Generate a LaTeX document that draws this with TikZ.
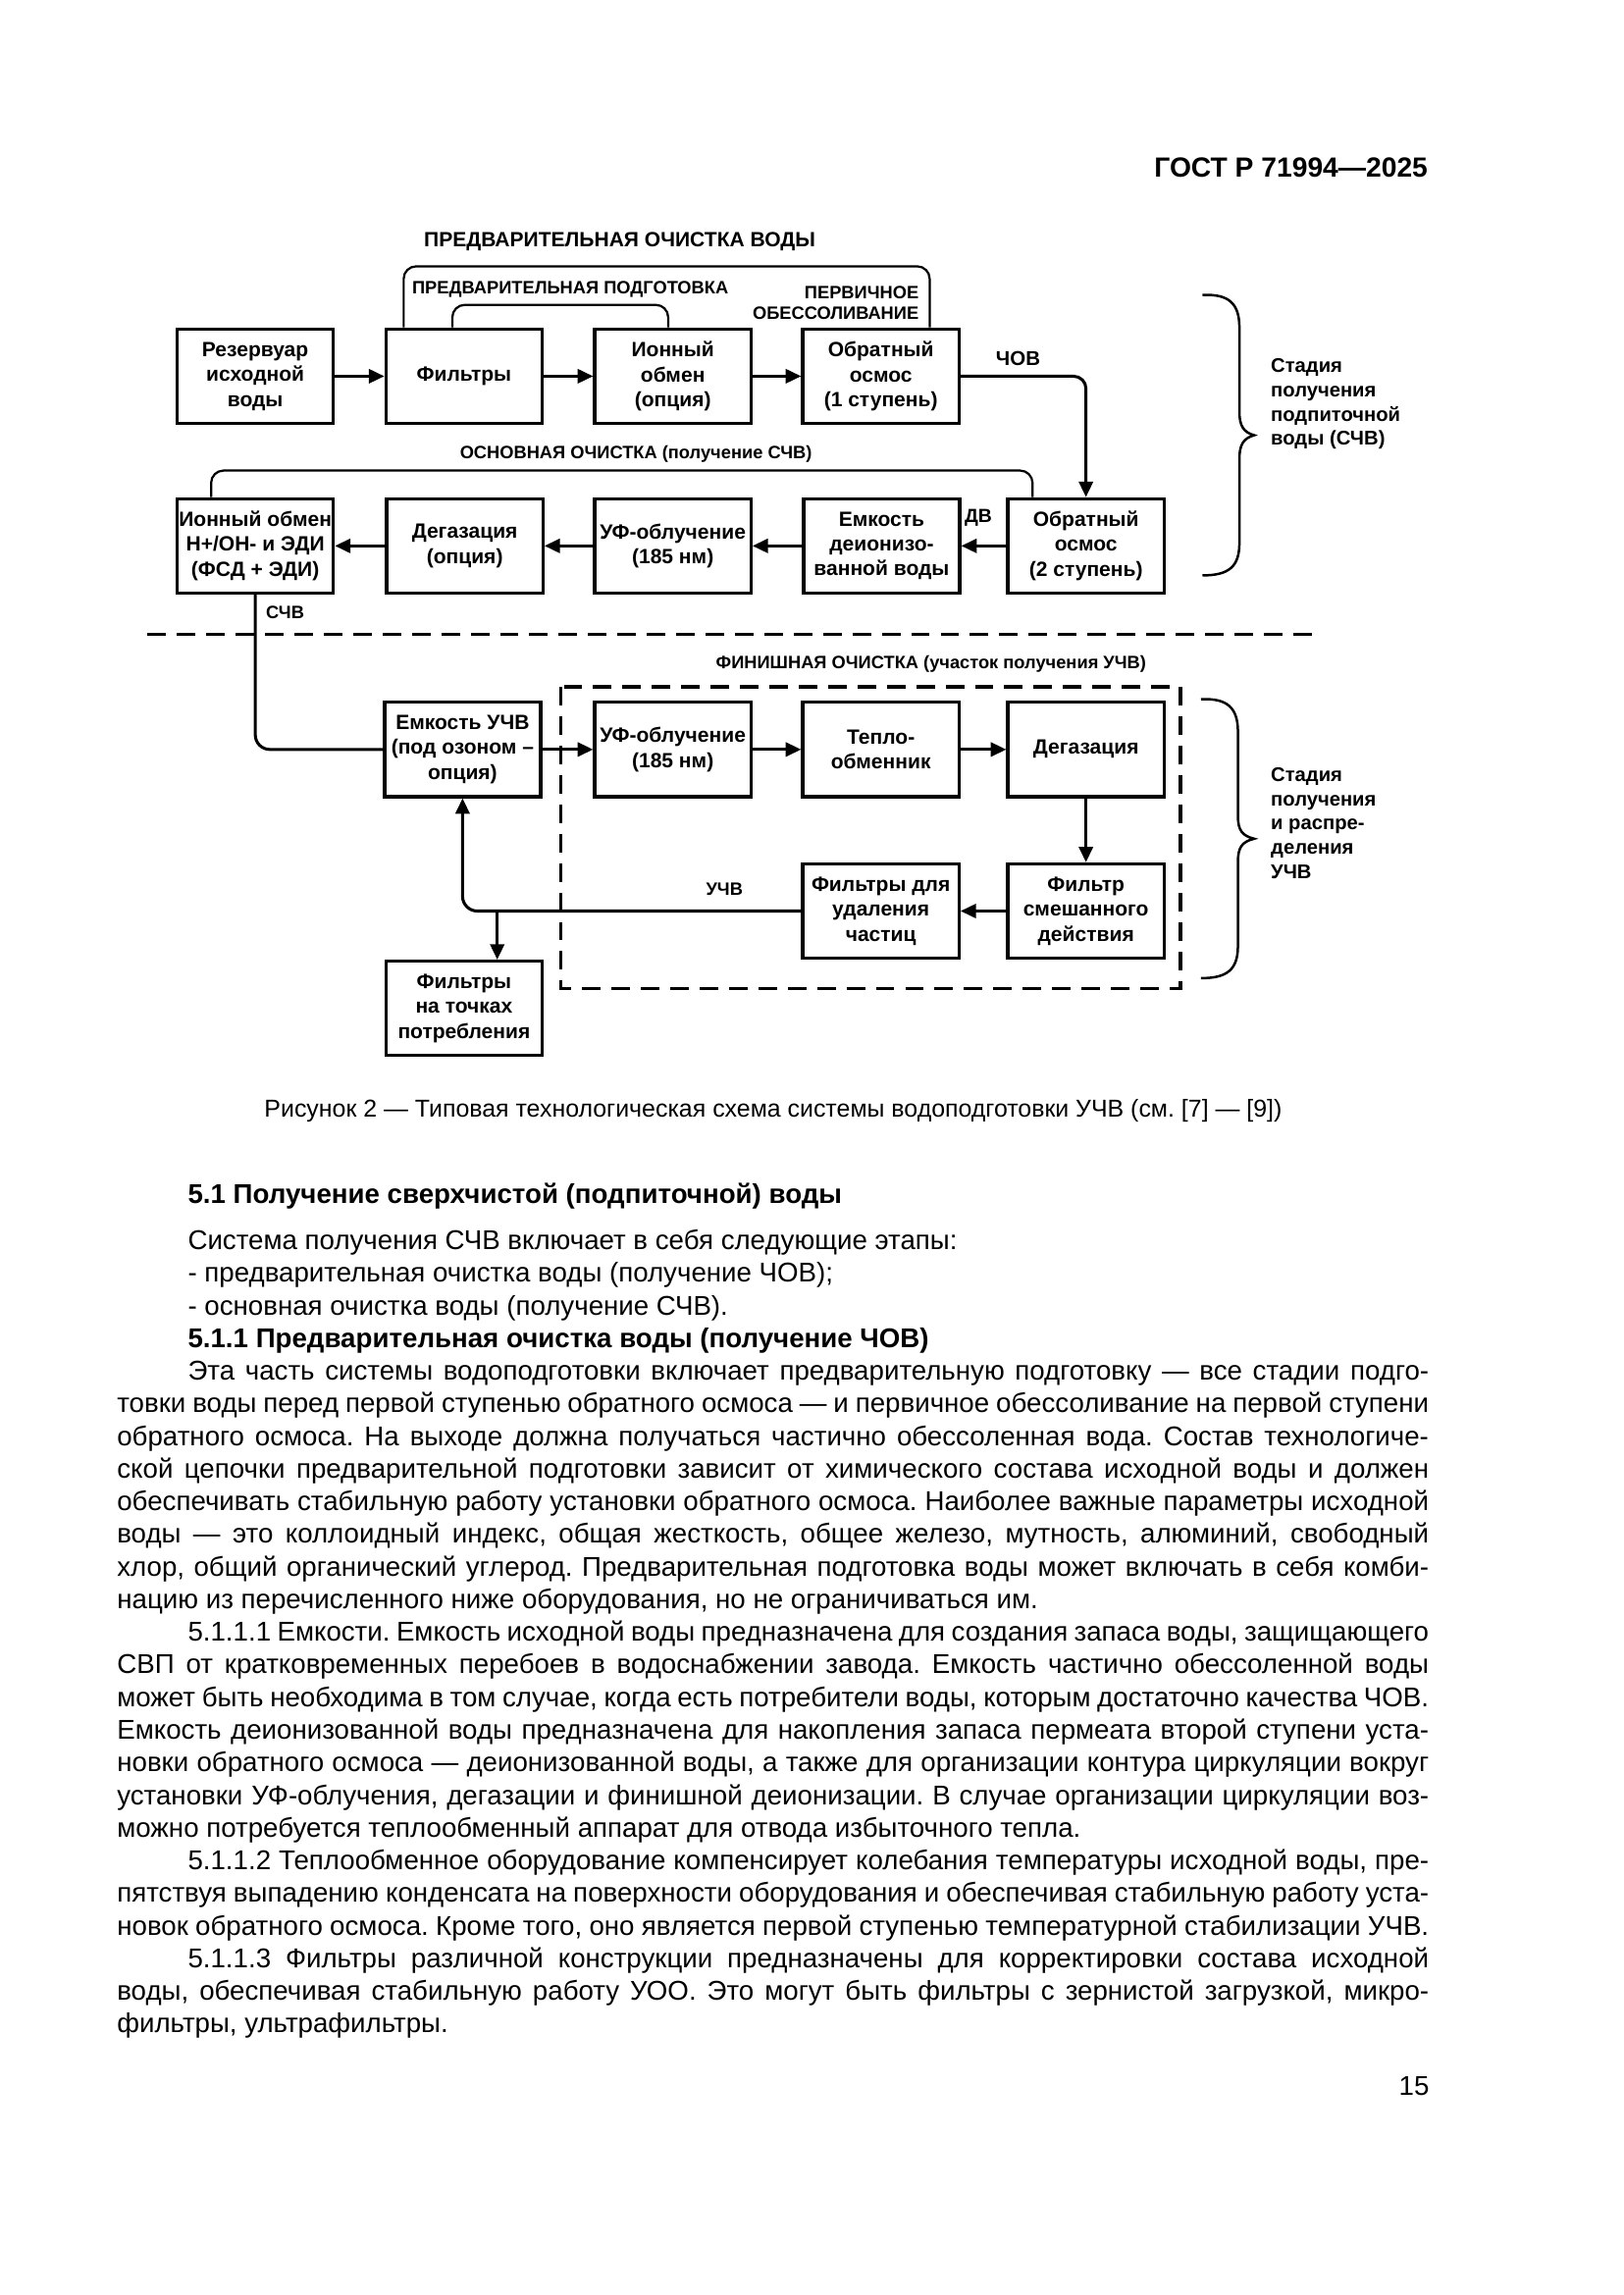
\documentclass[tikz,border=0pt]{standalone}
\usepackage{fontspec}
\setmainfont{Liberation Sans}
\usetikzlibrary{arrows.meta}
\frenchspacing
\newlength\fullw \setlength\fullw{169.72mm}
\newlength\indw \setlength\indw{160.56mm}
\newcommand\JL[5]{\node[body] (#1) at (#2,{847+22.12*(#3-1)}) {\makebox[#4][s]{#5}};}
\newcommand\PL[4]{\node[body] (#1) at (#2,{847+22.12*(#3-1)}) {#4};}
\begin{document}
\begin{tikzpicture}[x=0.19091mm,y=-0.19091mm,
  box/.style={draw, line width=1.2pt, minimum width=20.2mm, minimum height=12.2mm, inner sep=0pt, align=center, font=\bfseries\fontsize{7.6}{9.2}\selectfont},
  conn/.style={line width=1.1pt, -{Triangle[length=2mm,width=1.8mm]}},
  plainline/.style={line width=1.1pt},
  brk/.style={line width=0.8pt, rounded corners=1.6mm},
  lbl/.style={font=\bfseries\fontsize{6.6}{8}\selectfont, inner sep=0pt},
  lblb/.style={font=\bfseries\fontsize{7.4}{8}\selectfont, inner sep=0pt},
  sep/.style={line width=1.2pt, dash pattern=on 2.4mm off 1.4mm},
  bracestyle/.style={line width=0.9pt},
  stage/.style={font=\bfseries\fontsize{7.3}{8.9}\selectfont, inner sep=0pt, align=left, anchor=west},
  body/.style={anchor=base west, inner sep=0pt, font=\fontsize{10}{12}\selectfont},
]
\fill[white] (0,0) rectangle (1100,1555.56);
\useasboundingbox (0,0) rectangle (1100,1555.56);

% header
\node[anchor=base east, inner sep=0pt, font=\bfseries\fontsize{10.2}{12}\selectfont] (hdr) at (968,120) {ГОСТ Р 71994—2025};

% boxes
\node[box] (res) at (173,255) {Резервуар\\исходной\\воды};
\node[box] (fil) at (314.5,255) {Фильтры};
\node[box] (ion) at (456,255) {Ионный\\обмен\\(опция)};
\node[box] (ro1) at (597,255) {Обратный\\осмос\\(1 ступень)};
\node[box] (ie) at (173,370) {Ионный обмен\\H+/OH- и ЭДИ\\(ФСД + ЭДИ)};
\node[box] (deg) at (315,370) {Дегазация\\(опция)};
\node[box] (uv) at (456,370) {УФ-облучение\\(185 нм)};
\node[box] (tank) at (597.5,370) {Емкость\\деионизо-\\ванной воды};
\node[box] (ro2) at (736,370) {Обратный\\осмос\\(2 ступень)};
\node[box] (tu) at (313.5,508) {Емкость УЧВ\\(под озоном –\\опция)};
\node[box] (uv2) at (456,508) {УФ-облучение\\(185 нм)};
\node[box] (hx) at (597,508) {Тепло-\\обменник};
\node[box] (deg2) at (736,508) {Дегазация};
\node[box] (fp) at (597,617.5) {Фильтры для\\удаления\\частиц};
\node[box] (fm) at (736,617.5) {Фильтр\\смешанного\\действия};
\node[box] (fu) at (314.5,683.5) {Фильтры\\на точках\\потребления};

% connectors
\draw[conn] (res) -- (fil);
\draw[conn] (fil) -- (ion);
\draw[conn] (ion) -- (ro1);
\draw[conn, rounded corners=1.6mm] (ro1.east) -| (ro2.north);
\draw[conn] (ro2) -- (tank);
\draw[conn] (tank) -- (uv);
\draw[conn] (uv) -- (deg);
\draw[conn] (deg) -- (ie);
\draw[plainline, rounded corners=1.9mm] (ie.south) |- (tu.west);
\draw[conn] (tu) -- (uv2);
\draw[conn] (uv2) -- (hx);
\draw[conn] (hx) -- (deg2);
\draw[conn] (deg2) -- (fm);
\draw[conn] (fm) -- (fp);
\draw[conn, rounded corners=1.9mm] (fp.west) -| (tu.south);
\coordinate (br) at (337,617.5);
\draw[conn] (br) -- (fu.north -| br);

% brackets
\draw[brk] ([xshift=2.5mm]fil.north west) -- ++(0,-41.4) -| ([xshift=-4mm]ro1.north east);
\draw[brk] ([xshift=8.8mm]fil.north west) -- ++(0,-15.3) -| ([xshift=-0.6mm]ion.north);
\draw[brk] ([xshift=4.6mm]ie.north west) -- ++(0,-18) -| ([xshift=3.4mm]ro2.north west);

% labels
\node[font=\bfseries\fontsize{7.6}{9}\selectfont, inner sep=0pt] (t1) at (420,164) {ПРЕДВАРИТЕЛЬНАЯ ОЧИСТКА ВОДЫ};
\node[lbl, anchor=west] (t2) at (279,196) {ПРЕДВАРИТЕЛЬНАЯ ПОДГОТОВКА};
\node[lbl, anchor=east] (t3) at (623,198) {ПЕРВИЧНОЕ};
\node[lbl, anchor=east] (t4) at (623,212) {ОБЕССОЛИВАНИЕ};
\node[lblb] (chov) at (690,243) {ЧОВ};
\node[lbl] (t5) at (431,308) {ОСНОВНАЯ ОЧИСТКА (получение СЧВ)};
\node[lbl, font=\bfseries\fontsize{7}{8}\selectfont] (dv) at (663,351) {ДВ};
\node[lbl, anchor=west] (schv) at (180,415) {СЧВ};
\draw[sep] (100,430) -- (896,430);
\node[lbl] (t6) at (631,450) {ФИНИШНАЯ ОЧИСТКА (участок получения УЧВ)};
\draw[sep] (380,465.6) rectangle (800,670);
\node[lbl] (uchv) at (491,603) {УЧВ};

% braces
\draw[bracestyle] (815,200) .. controls (833,199) and (840,206) .. (840,222) -- (840,279)
  .. controls (840,289) and (843,293) .. (850,295) .. controls (843,297) and (840,301) .. (840,311)
  -- (840,368) .. controls (840,384) and (833,390) .. (815,390);
\node[stage] (st1) at (861,274) {Стадия\\получения\\подпиточной\\воды (СЧВ)};
\draw[bracestyle] (814,474) .. controls (832,473) and (839,480) .. (839,496) -- (839,553)
  .. controls (839,563) and (842,566.5) .. (850,568.5) .. controls (842,570.5) and (839,574) .. (839,584)
  -- (839,641) .. controls (839,657) and (832,663) .. (814,663);
\node[stage] (st2) at (861,558) {Стадия\\получения\\и распре-\\деления\\УЧВ};

% caption
\node[anchor=base, inner sep=0pt, font=\fontsize{9}{11}\selectfont] (cap) at (524,757) {Рисунок 2 — Типовая технологическая схема системы водоподготовки УЧВ (см. [7] — [9])};

% body text
\node[body, font=\bfseries\fontsize{10}{12}\selectfont] (h51) at (127,815.5) {5.1 Получение сверхчистой (подпиточной) воды};
\PL{l1}{127}{1}{Система получения СЧВ включает в себя следующие этапы:}
\PL{l2}{127}{2}{- предварительная очистка воды (получение ЧОВ);}
\PL{l3}{127}{3}{- основная очистка воды (получение СЧВ).}
\PL{l4}{127}{4}{\bfseries 5.1.1 Предварительная очистка воды (получение ЧОВ)}
\JL{l5}{127}{5}{\indw}{Эта часть системы водоподготовки включает предварительную подготовку — все стадии подго-}
\JL{l6}{79}{6}{\fullw}{товки воды перед первой ступенью обратного осмоса — и первичное обессоливание на первой ступени}
\JL{l7}{79}{7}{\fullw}{обратного осмоса. На выходе должна получаться частично обессоленная вода. Состав технологиче-}
\JL{l8}{79}{8}{\fullw}{ской цепочки предварительной подготовки зависит от химического состава исходной воды и должен}
\JL{l9}{79}{9}{\fullw}{обеспечивать стабильную работу установки обратного осмоса. Наиболее важные параметры исходной}
\JL{l10}{79}{10}{\fullw}{воды — это коллоидный индекс, общая жесткость, общее железо, мутность, алюминий, свободный}
\JL{l11}{79}{11}{\fullw}{хлор, общий органический углерод. Предварительная подготовка воды может включать в себя комби-}
\PL{l12}{79}{12}{нацию из перечисленного ниже оборудования, но не ограничиваться им.}
\JL{l13}{127}{13}{\indw}{5.1.1.1 Емкости. Емкость исходной воды предназначена для создания запаса воды, защищающего}
\JL{l14}{79}{14}{\fullw}{СВП от кратковременных перебоев в водоснабжении завода. Емкость частично обессоленной воды}
\JL{l15}{79}{15}{\fullw}{может быть необходима в том случае, когда есть потребители воды, которым достаточно качества ЧОВ.}
\JL{l16}{79}{16}{\fullw}{Емкость деионизованной воды предназначена для накопления запаса пермеата второй ступени уста-}
\JL{l17}{79}{17}{\fullw}{новки обратного осмоса — деионизованной воды, а также для организации контура циркуляции вокруг}
\JL{l18}{79}{18}{\fullw}{установки УФ-облучения, дегазации и финишной деионизации. В случае организации циркуляции воз-}
\PL{l19}{79}{19}{можно потребуется теплообменный аппарат для отвода избыточного тепла.}
\JL{l20}{127}{20}{\indw}{5.1.1.2 Теплообменное оборудование компенсирует колебания температуры исходной воды, пре-}
\JL{l21}{79}{21}{\fullw}{пятствуя выпадению конденсата на поверхности оборудования и обеспечивая стабильную работу уста-}
\JL{l22}{79}{22}{\fullw}{новок обратного осмоса. Кроме того, оно является первой ступенью температурной стабилизации УЧВ.}
\JL{l23}{127}{23}{\indw}{5.1.1.3 Фильтры различной конструкции предназначены для корректировки состава исходной}
\JL{l24}{79}{24}{\fullw}{воды, обеспечивая стабильную работу УОО. Это могут быть фильтры с зернистой загрузкой, микро-}
\PL{l25}{79}{25}{фильтры, ультрафильтры.}

% page number
\node[anchor=base east, inner sep=0pt, font=\fontsize{10}{12}\selectfont] (pg) at (969,1420) {15};
\end{tikzpicture}
\end{document}
